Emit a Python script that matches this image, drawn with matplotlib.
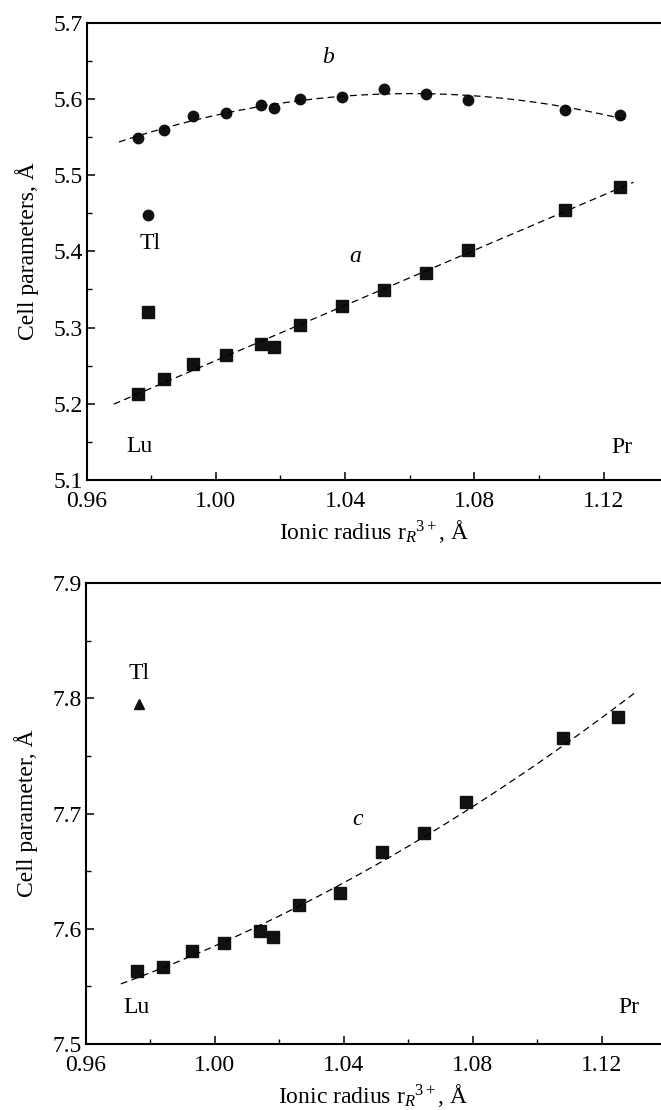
import numpy as np
import matplotlib
matplotlib.use("Agg")
import matplotlib.pyplot as plt
from matplotlib.ticker import MultipleLocator, FormatStrFormatter

plt.rcParams['font.family'] = ['Liberation Serif', 'DejaVu Serif']
plt.rcParams['mathtext.fontset'] = 'custom'
plt.rcParams['mathtext.rm'] = 'Liberation Serif'
plt.rcParams['mathtext.it'] = 'Liberation Serif:italic'

# Ionic radii (Lu ... Pr)
r = [0.976, 0.984, 0.993, 1.003, 1.014, 1.018, 1.026, 1.039, 1.052, 1.065, 1.078, 1.108, 1.125]
b_vals = [5.549, 5.559, 5.577, 5.582, 5.592, 5.588, 5.600, 5.603, 5.613, 5.606, 5.598, 5.586, 5.579]
a_vals = [5.213, 5.233, 5.252, 5.264, 5.279, 5.274, 5.303, 5.328, 5.349, 5.372, 5.402, 5.454, 5.484]
c_vals = [7.563, 7.567, 7.581, 7.588, 7.598, 7.593, 7.621, 7.631, 7.667, 7.683, 7.710, 7.766, 7.784]
tl_r_top = 0.979
tl_b = 5.448
tl_a = 5.320
tl_r_bot = 0.9765
tl_c = 7.795

fig = plt.figure(figsize=(6.61, 11.10), dpi=100)
ax1 = fig.add_axes([0.1311, 0.5676, 0.8689, 0.4120])
ax2 = fig.add_axes([0.1297, 0.0595, 0.8703, 0.4150])

dash = (0, (5.5, 3.5))
fs = 17

def style(ax, ylo, yhi, xhi):
    ax.set_xlim(0.96, xhi)
    ax.set_ylim(ylo, yhi)
    ax.xaxis.set_major_locator(MultipleLocator(0.04))
    ax.xaxis.set_minor_locator(MultipleLocator(0.02))
    ax.yaxis.set_major_locator(MultipleLocator(0.1))
    ax.yaxis.set_minor_locator(MultipleLocator(0.05))
    ax.xaxis.set_major_formatter(FormatStrFormatter('%.2f'))
    ax.yaxis.set_major_formatter(FormatStrFormatter('%.1f'))
    ax.spines['right'].set_visible(False)
    for s in ['left', 'bottom', 'top']:
        ax.spines[s].set_linewidth(1.5)
    ax.tick_params(which='major', direction='in', length=6, width=1.1, labelsize=fs)
    ax.tick_params(which='minor', direction='in', length=3.5, width=1.0)
    ax.tick_params(axis='x', which='both', top=False, pad=8)
    ax.tick_params(axis='y', which='both', right=False, pad=3)
    ax.set_xlabel('Ionic radius r$_{R}$$^{3+}$, Å', fontsize=fs, labelpad=4)

# Top panel
style(ax1, 5.1, 5.7, 1.1378)
ax1.plot(r, b_vals, 'o', color='#111111', ms=7.5, mec='#111111')
ax1.plot(r, a_vals, 's', color='#111111', ms=8, mec='#111111')
ax1.plot([tl_r_top], [tl_b], 'o', color='#111111', ms=7.5)
ax1.plot([tl_r_top], [tl_a], 's', color='#111111', ms=8)
xf = np.linspace(0.970, 1.127, 200)
pb = np.polyfit(r, b_vals, 2)
ax1.plot(xf, np.polyval(pb, xf), color='black', lw=0.9, linestyle=dash)
xa = np.linspace(0.9684, 1.1293, 200)
pa = np.polyfit(r, a_vals, 1)
ax1.plot(xa, np.polyval(pa, xa), color='black', lw=0.9, linestyle=dash)
ax1.set_ylabel('Cell parameters, Å', fontsize=fs, labelpad=10)
ax1.text(1.0347, 5.6537, 'b', style='italic', fontsize=fs, ha='center', va='center')
ax1.text(1.043, 5.3937, 'a', style='italic', fontsize=fs, ha='center', va='center')
ax1.text(0.9796, 5.4106, 'Tl', fontsize=fs, ha='center', va='center')
ax1.text(0.9765, 5.1445, 'Lu', fontsize=fs, ha='center', va='center')
ax1.text(1.1258, 5.142, 'Pr', fontsize=fs, ha='center', va='center')

# Bottom panel
style(ax2, 7.5, 7.9, 1.1384)
ax2.plot(r, c_vals, 's', color='#111111', ms=8, mec='#111111')
ax2.plot([tl_r_bot], [tl_c], '^', color='#111111', ms=7)
xc = np.linspace(0.9709, 1.1303, 200)
pc = np.polyfit(r, c_vals, 2)
ax2.plot(xc, np.polyval(pc, xc), color='black', lw=0.9, linestyle=dash)
ax2.set_ylabel('Cell parameter, Å', fontsize=fs, labelpad=10)
ax2.text(0.9765, 7.822, 'Tl', fontsize=fs, ha='center', va='center')
ax2.text(1.0443, 7.6947, 'c', style='italic', fontsize=fs, ha='center', va='center')
ax2.text(0.9756, 7.5313, 'Lu', fontsize=fs, ha='center', va='center')
ax2.text(1.1284, 7.532, 'Pr', fontsize=fs, ha='center', va='center')

fig.savefig('out.png', dpi=100)
